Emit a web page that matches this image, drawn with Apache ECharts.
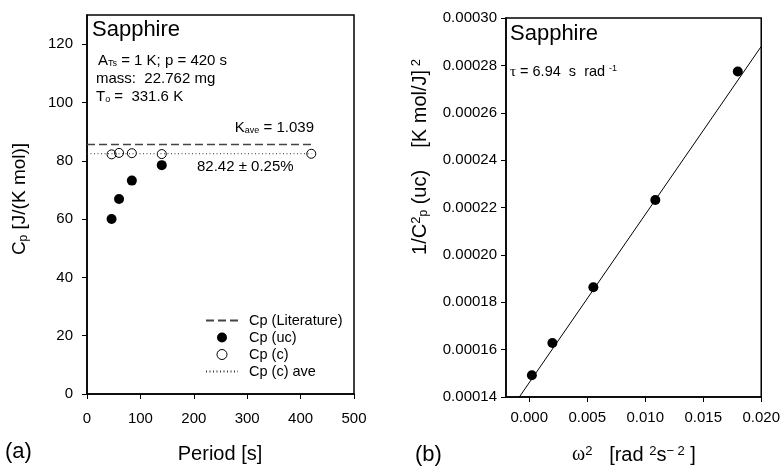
<!DOCTYPE html>
<html>
<head>
<meta charset="UTF-8">
<title>Sapphire Cp</title>
<script src="https://cdn.jsdelivr.net/npm/echarts@6/dist/echarts.min.js"></script>
<style>
  body { margin: 0; padding: 0; background: #fff; }
  #chart { width: 783px; height: 466px; }
</style>
</head>
<body>
<div id="chart"></div>
<script>
// (a) heat capacity vs period
var period = [46, 60, 84, 140, 420];
var cpUc = [60.0, 66.9, 73.2, 78.5];          // first four periods
var cpC = [82.2, 82.7, 82.6, 82.3, 82.4];
var cpLit = 85.6;
var cpAve = 82.42;
var lineRange = [0, 420];

// (b) 1/Cp^2 vs omega^2
var omega2 = [0.00023, 0.0020, 0.00553, 0.01087, 0.01798];
var invCp2 = [0.0001492, 0.0001628, 0.0001863, 0.0002232, 0.0002774];
var fitX = [-0.00085, 0.020];
var fitY = [0.00014, 0.000288];
var omegaTicks = [0, 0.005, 0.010, 0.015, 0.020];

var FONT = 'Arial, "Liberation Sans", sans-serif';
var SERIF = '"Liberation Serif", "DejaVu Serif", serif';

var chart = echarts.init(document.getElementById('chart'));

function pairs(xs, ys) {
  return ys.map(function (y, i) { return [xs[i], y]; });
}

var axisCommon = {
  axisLine: { show: true, onZero: false, lineStyle: { color: '#000', width: 1.5 } },
  axisTick: { show: true, inside: false, length: 5, lineStyle: { color: '#000' } },
  splitLine: { show: false },
  axisLabel: { color: '#000', fontFamily: FONT, fontSize: 15 }
};
var subStyle = { fontSize: 9, fontFamily: FONT, verticalAlign: 'bottom', lineHeight: 9 };

var option = {
  animation: false,
  backgroundColor: '#fff',
  grid: [
    { left: 87, right: 429, top: 15, bottom: 72, show: true, borderColor: '#000', borderWidth: 1.5 },
    { left: 506, right: 20, top: 18, bottom: 69, show: true, borderColor: '#000', borderWidth: 1.5 }
  ],
  xAxis: [
    Object.assign({}, axisCommon, {
      gridIndex: 0, type: 'value', min: 0, max: 500, interval: 100,
      axisLabel: Object.assign({}, axisCommon.axisLabel, { margin: 17 })
    }),
    Object.assign({}, axisCommon, {
      gridIndex: 1, type: 'value', min: -0.002, max: 0.020,
      axisTick: Object.assign({}, axisCommon.axisTick, { customValues: omegaTicks }),
      axisLabel: Object.assign({}, axisCommon.axisLabel, {
        customValues: omegaTicks, margin: 13,
        formatter: function (v) { return v.toFixed(3); }
      })
    })
  ],
  yAxis: [
    Object.assign({}, axisCommon, {
      gridIndex: 0, type: 'value', min: 0, max: 130, interval: 20,
      axisLabel: Object.assign({}, axisCommon.axisLabel, { showMaxLabel: false, margin: 14 })
    }),
    Object.assign({}, axisCommon, {
      gridIndex: 1, type: 'value', min: 0.00014, max: 0.00030, interval: 0.00002,
      axisLabel: Object.assign({}, axisCommon.axisLabel, {
        margin: 9,
        formatter: function (v) { return v.toFixed(5); }
      })
    })
  ],
  legend: {
    orient: 'vertical', left: 200, top: 308, itemWidth: 32, itemHeight: 10, itemGap: 2,
    textStyle: { fontFamily: FONT, fontSize: 14.5, color: '#000', padding: [0, 0, 0, 6] },
    data: [
      { name: 'Cp (Literature)', itemStyle: { opacity: 0 } },
      { name: 'Cp (uc)' },
      { name: 'Cp (c)', itemStyle: { borderWidth: 1 } },
      { name: 'Cp (c) ave', itemStyle: { opacity: 0 } }
    ],
    selectedMode: false
  },
  series: [
    {
      name: 'Cp (Literature)', type: 'line', xAxisIndex: 0, yAxisIndex: 0,
      data: lineRange.map(function (x) { return [x, cpLit]; }),
      symbol: 'none', itemStyle: { color: '#444' },
      lineStyle: { color: '#444', width: 1.5, type: [8, 4] }
    },
    {
      name: 'Cp (c) ave', type: 'line', xAxisIndex: 0, yAxisIndex: 0,
      data: lineRange.map(function (x) { return [x, cpAve]; }),
      symbol: 'none', itemStyle: { color: '#333' },
      lineStyle: { color: '#333', width: 1, type: [1, 2.5] }
    },
    {
      name: 'Cp (uc)', type: 'scatter', xAxisIndex: 0, yAxisIndex: 0,
      data: pairs(period, cpUc), symbol: 'circle', symbolSize: 10,
      itemStyle: { color: '#000', opacity: 1 }
    },
    {
      name: 'Cp (c)', type: 'scatter', xAxisIndex: 0, yAxisIndex: 0,
      data: pairs(period, cpC), symbol: 'circle', symbolSize: 9,
      itemStyle: { color: 'rgba(255,255,255,0)', borderColor: '#000', borderWidth: 1, opacity: 1 }
    },
    {
      name: 'fit', type: 'line', xAxisIndex: 1, yAxisIndex: 1,
      data: pairs(fitX, fitY), symbol: 'none',
      lineStyle: { color: '#000', width: 1 }
    },
    {
      name: 'uc', type: 'scatter', xAxisIndex: 1, yAxisIndex: 1,
      data: pairs(omega2, invCp2), symbol: 'circle', symbolSize: 10,
      itemStyle: { color: '#000', opacity: 1 }
    }
  ],
  graphic: [
    // left panel texts
    { type: 'text', left: 92, top: 19, style: { text: 'Sapphire', font: '22px ' + FONT, fill: '#000' } },
    { type: 'text', x: 98, y: 61, style: {
        text: 'A{sub|Ts} = 1 K; p = 420 s', verticalAlign: 'middle',
        font: '15px ' + FONT, fill: '#000', rich: { sub: subStyle }
      } },
    { type: 'text', x: 96, y: 79, style: { text: 'mass:  22.762 mg', verticalAlign: 'middle', font: '15px ' + FONT, fill: '#000' } },
    { type: 'text', x: 96, y: 97, style: {
        text: 'T{sub|o} =  331.6 K', verticalAlign: 'middle',
        font: '15px ' + FONT, fill: '#000', rich: { sub: subStyle }
      } },
    { type: 'text', x: 314, y: 128, style: {
        text: 'K{sub|ave} = 1.039', align: 'right', verticalAlign: 'middle',
        font: '15px ' + FONT, fill: '#000', rich: { sub: subStyle }
      } },
    { type: 'text', x: 197, y: 167, style: { text: '82.42 ± 0.25%', verticalAlign: 'middle', font: '15px ' + FONT, fill: '#000' } },
    // left axis titles
    { type: 'text', x: 220, y: 454, style: { text: 'Period [s]', align: 'center', verticalAlign: 'middle', font: '20px ' + FONT, fill: '#000' } },
    { type: 'text', x: 20, y: 199, rotation: Math.PI / 2, style: {
        text: 'C{sub|p} [J/(K mol)]', align: 'center', verticalAlign: 'middle',
        font: '19px ' + FONT, fill: '#000',
        rich: { sub: { fontSize: 12, fontFamily: FONT, verticalAlign: 'bottom', lineHeight: 12 } }
      } },
    { type: 'text', x: 5, y: 452, style: { text: '(a)', verticalAlign: 'middle', font: '22px ' + FONT, fill: '#000' } },
    // right panel texts
    { type: 'text', left: 510, top: 23, style: { text: 'Sapphire', font: '22px ' + FONT, fill: '#000' } },
    { type: 'text', x: 510, y: 72, style: {
        text: '{t|τ} = 6.94  s  rad {sup|-1}', verticalAlign: 'middle',
        font: '14.5px ' + FONT, fill: '#000',
        rich: {
          t: { fontSize: 15, fontFamily: SERIF },
          sup: { fontSize: 9, fontFamily: FONT, verticalAlign: 'top', lineHeight: 9 }
        }
      } },
    { type: 'text', x: 634, y: 455, style: {
        text: '{w|ω}{sup|2}   [rad {sup|2}s{sup|− 2} ]', align: 'center', verticalAlign: 'middle',
        font: '20px ' + FONT, fill: '#000',
        rich: {
          w: { fontSize: 20, fontFamily: SERIF },
          sup: { fontSize: 13, fontFamily: FONT, verticalAlign: 'top', lineHeight: 13 }
        }
      } },
    { type: 'text', x: 420, y: 157, rotation: Math.PI / 2, style: {
        text: '1/C{sup|2}{sub|p} (uc)    [K mol/J]{sup| 2}', align: 'center', verticalAlign: 'middle',
        font: '20px ' + FONT, fill: '#000',
        rich: {
          sup: { fontSize: 13, fontFamily: FONT, verticalAlign: 'top', lineHeight: 13 },
          sub: { fontSize: 12, fontFamily: FONT, verticalAlign: 'bottom', lineHeight: 12 }
        }
      } },
    { type: 'text', x: 415, y: 455, style: { text: '(b)', verticalAlign: 'middle', font: '22px ' + FONT, fill: '#000' } }
  ]
};

chart.setOption(option);
</script>
</body>
</html>
